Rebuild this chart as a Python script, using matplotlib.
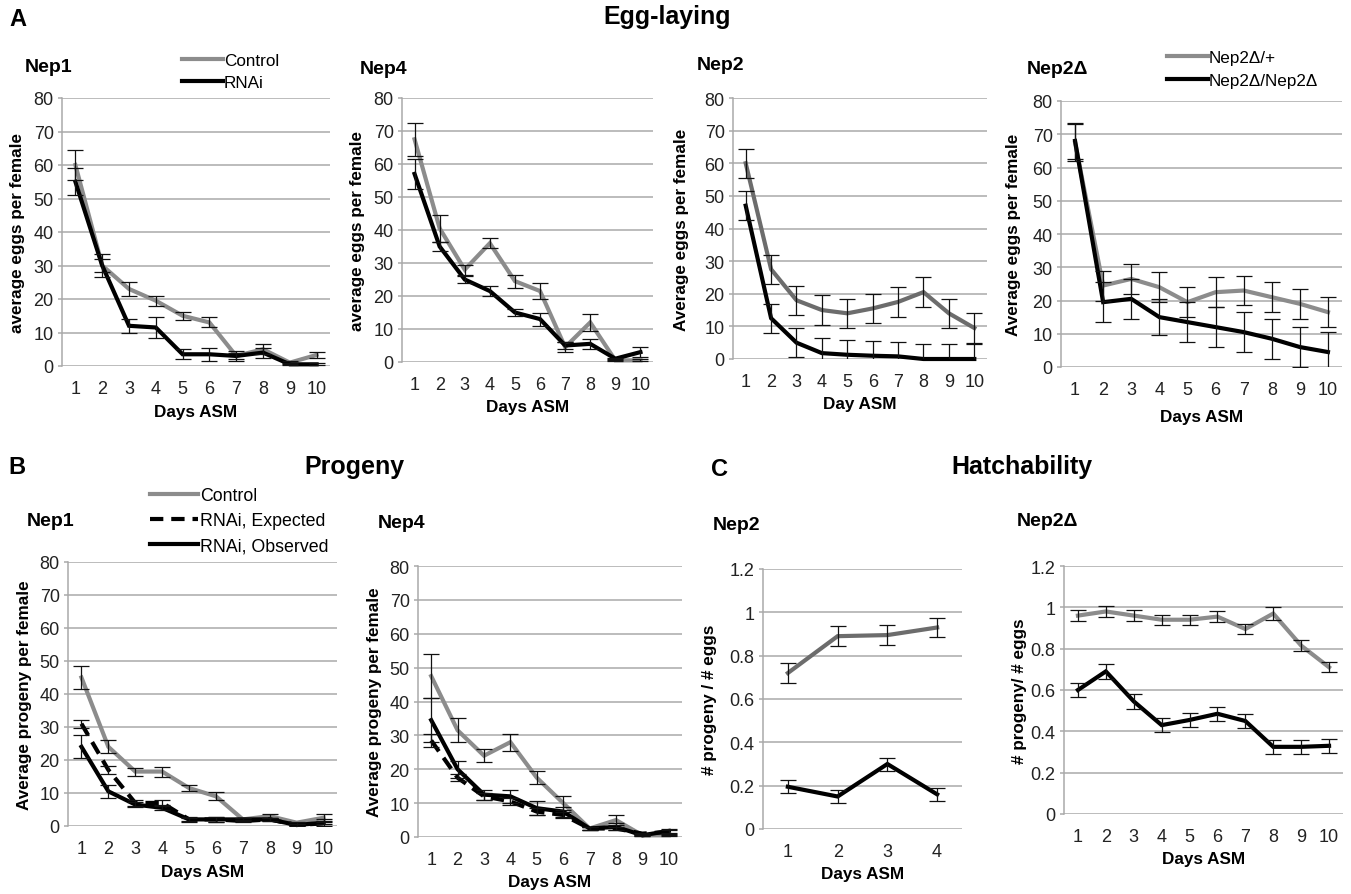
import matplotlib
matplotlib.use('Agg')
import matplotlib.pyplot as plt
from matplotlib.ticker import FuncFormatter

plt.rcParams['font.family'] = ['Liberation Sans', 'DejaVu Sans']

# ---------------- data ----------------
days10 = [1, 2, 3, 4, 5, 6, 7, 8, 9, 10]
days4 = [1, 2, 3, 4]

# A: Egg-laying
eggs_nep1_control = [60, 30, 23, 19.5, 15, 13, 3, 5, 1, 3.3]
eggs_nep1_control_err = [4.5, 3.5, 2, 1.5, 1.2, 1.5, 1.5, 1.5, 0.5, 1]
eggs_nep1_rnai = [55, 30, 12, 11.5, 3.5, 3.5, 3, 4, 0.5, 0.5]
eggs_nep1_rnai_err = [4, 2, 2, 3, 1.5, 2, 1, 1.5, 0.3, 0.3]

eggs_nep4_control = [67.5, 40.5, 28, 36, 24.5, 21.5, 4.5, 12, 0.5, 0.5]
eggs_nep4_control_err = [5, 4, 1.5, 1.5, 2, 2.5, 1.5, 2.5, 0.3, 0.3]
eggs_nep4_rnai = [57, 35, 25, 21.5, 15, 13, 5, 5.5, 1, 3]
eggs_nep4_rnai_err = [4.5, 1.5, 1, 1.5, 1.2, 2, 1, 1.5, 0.3, 1.5]

eggs_nep2_control = [60, 27.5, 18, 15, 14, 15.5, 17.5, 20.5, 14, 9.5]
eggs_nep2_control_err = [4.5, 4.5, 4.5, 4.5, 4.5, 4.5, 4.5, 4.5, 4.5, 4.5]
eggs_nep2_rnai = [47, 12.5, 5, 1.8, 1.3, 1, 0.8, 0, 0, 0]
eggs_nep2_rnai_err = [4.5, 4.5, 4.5, 4.5, 4.5, 4.5, 4.5, 4.7, 4.7, 4.7]

eggs_nep2d_het = [67.5, 24.5, 26.5, 24, 19.5, 22.5, 23, 21, 19, 16.5]
eggs_nep2d_het_err = [5.5, 4.5, 4.5, 4.5, 4.5, 4.5, 4.5, 4.5, 4.5, 4.5]
eggs_nep2d_hom = [68, 19.5, 20.5, 15, 13.5, 12, 10.5, 8.5, 6, 4.5]
eggs_nep2d_hom_err = [5.5, 6, 6, 5.5, 6, 6, 6, 6, 6, 6]

# B: Progeny
prog_nep1_control = [45, 24, 16.5, 16.5, 11.5, 9, 2, 3, 1, 2.5]
prog_nep1_control_err = [3.5, 2, 1.2, 1.5, 1, 1.2, 0.5, 0.5, 0.3, 1]
prog_nep1_expected = [31, 17, 7, 7, 2, 2, 1.5, 2, 0.3, 0.8]
prog_nep1_expected_err = [1.2, 1.2, 0.8, 1, 0.5, 0.8, 0.3, 0.5, 0.2, 0.3]
prog_nep1_observed = [24, 10.5, 6.5, 5.5, 2, 2, 2, 2, 0.3, 1]
prog_nep1_observed_err = [3.5, 2, 0.8, 0.8, 0.8, 0.8, 0.3, 0.5, 0.2, 1]

prog_nep4_control = [47.5, 31.5, 24, 28, 17.5, 10, 2.5, 5, 0.5, 0.5]
prog_nep4_control_err = [6.5, 3.5, 2, 2.5, 2, 2, 0.5, 1.5, 0.2, 0.2]
prog_nep4_expected = [28.5, 17.5, 12, 10.5, 7.5, 6.5, 2.5, 2.5, 1, 1.5]
prog_nep4_expected_err = [2, 1, 1, 1, 1, 1, 0.5, 0.5, 0.2, 0.5]
prog_nep4_observed = [34.5, 20, 12.5, 12, 8.5, 7.5, 2.5, 3, 0.5, 1.8]
prog_nep4_observed_err = [6.5, 2.5, 1.5, 2, 2, 1.5, 0.5, 1, 0.2, 0.5]

# C: Hatchability
hatch_nep2_control = [0.72, 0.89, 0.895, 0.93]
hatch_nep2_control_err = [0.045, 0.045, 0.045, 0.045]
hatch_nep2_rnai = [0.195, 0.15, 0.30, 0.16]
hatch_nep2_rnai_err = [0.03, 0.03, 0.03, 0.03]

hatch_nep2d_het = [0.96, 0.98, 0.96, 0.94, 0.94, 0.955, 0.895, 0.97, 0.815, 0.71]
hatch_nep2d_het_err = [0.025, 0.025, 0.025, 0.025, 0.025, 0.025, 0.025, 0.03, 0.025, 0.025]
hatch_nep2d_hom = [0.60, 0.69, 0.545, 0.43, 0.455, 0.485, 0.45, 0.325, 0.325, 0.33]
hatch_nep2d_hom_err = [0.035, 0.035, 0.035, 0.035, 0.035, 0.035, 0.035, 0.035, 0.035, 0.035]

legend_a_rnai = ['Control', 'RNAi']
legend_a_nep2d = ['Nep2\u0394/+', 'Nep2\u0394/Nep2\u0394']
legend_b = ['Control', 'RNAi, Expected', 'RNAi, Observed']

# ---------------- style ----------------
W, H = 1351, 895
LIGHT = '#8c8c8c'
DARK = '#6c6c6c'
BLACK = '#000000'
GRID = '#a9a9a9'
LW = 3.0
TICK_FS = 13
LABEL_FS = 12.3
SUB_FS = 14
LEG_FS = 12.3

fig = plt.figure(figsize=(W / 100, H / 100), dpi=100)


def px_ax(l, r, t, b):
    return fig.add_axes([l / W, 1 - b / H, (r - l) / W, (b - t) / H])


def style(ax, box, xs, ymax, ystep, ylabel, xlabel, ylab_right, xlab_top):
    l, r, t, b = box
    ax.set_xlim(xs[0] - 0.5, xs[-1] + 0.5)
    ax.set_ylim(0, ymax)
    n = int(round(ymax / ystep))
    ax.set_yticks([round(i * ystep, 3) for i in range(n + 1)])
    ax.set_xticks(xs)
    ax.yaxis.set_major_formatter(FuncFormatter(lambda v, p: f'{round(v, 3):g}'))
    for s in ['top', 'right', 'bottom']:
        ax.spines[s].set_visible(False)
    ax.spines['left'].set_color(GRID)
    ax.spines['left'].set_linewidth(1.1)
    ax.grid(axis='y', color=GRID, linewidth=1.1)
    ax.set_axisbelow(True)
    ax.tick_params(axis='y', length=3, color=GRID, width=1.1, pad=3,
                   labelsize=TICK_FS, labelcolor='#222222')
    ax.tick_params(axis='x', length=0, pad=10, labelsize=TICK_FS, labelcolor='#222222')
    ax.set_ylabel(ylabel, fontsize=LABEL_FS, fontweight='bold')
    ax.set_xlabel(xlabel, fontsize=LABEL_FS, fontweight='bold')
    ax.yaxis.set_label_coords((ylab_right - l) / (r - l), 0.5)
    ax.xaxis.set_label_coords(0.5, (b - xlab_top) / (b - t))


def series(ax, xs, ys, err, color, ls='-'):
    ln, = ax.plot(xs, ys, color=color, lw=LW, ls=ls, clip_on=False, zorder=3,
                  solid_joinstyle='miter', dashes=(3.2, 1.9) if ls == '--' else (None, None))
    ax.errorbar(xs, ys, yerr=err, fmt='none', ecolor='#111111', elinewidth=0.9,
                capsize=5.5, capthick=0.9, zorder=4, clip_on=True)
    return ln


# ---------- A ----------
boxA1 = (62, 330, 99, 367)
axA1 = px_ax(*boxA1)
h1 = series(axA1, days10, eggs_nep1_control, eggs_nep1_control_err, LIGHT)
h2 = series(axA1, days10, eggs_nep1_rnai, eggs_nep1_rnai_err, BLACK)
style(axA1, boxA1, days10, 80, 10, 'average eggs per female', 'Days ASM', 25, 405)
fig.legend([h1, h2], legend_a_rnai, loc='upper left', bbox_to_anchor=(182 / W, 1 - 54 / H),
           frameon=False, fontsize=LEG_FS, handlelength=2.4, handletextpad=0.05,
           borderpad=0, borderaxespad=0, labelspacing=0.42)

boxA2 = (402, 653, 99, 363)
axA2 = px_ax(*boxA2)
series(axA2, days10, eggs_nep4_control, eggs_nep4_control_err, LIGHT)
series(axA2, days10, eggs_nep4_rnai, eggs_nep4_rnai_err, BLACK)
style(axA2, boxA2, days10, 80, 10, 'average eggs per female', 'Days ASM', 365, 400)

boxA3 = (733, 987, 99, 360)
axA3 = px_ax(*boxA3)
series(axA3, days10, eggs_nep2_control, eggs_nep2_control_err, DARK)
series(axA3, days10, eggs_nep2_rnai, eggs_nep2_rnai_err, BLACK)
style(axA3, boxA3, days10, 80, 10, 'Average eggs per female', 'Day ASM', 689, 397)

boxA4 = (1061, 1342, 102, 368)
axA4 = px_ax(*boxA4)
g1 = series(axA4, days10, eggs_nep2d_het, eggs_nep2d_het_err, LIGHT)
g2 = series(axA4, days10, eggs_nep2d_hom, eggs_nep2d_hom_err, BLACK)
style(axA4, boxA4, days10, 80, 10, 'Average eggs per female', 'Days ASM', 1021, 410)
fig.legend([g1, g2], legend_a_nep2d, loc='upper left', bbox_to_anchor=(1167 / W, 1 - 51 / H),
           frameon=False, fontsize=LEG_FS, handlelength=2.4, handletextpad=0.05,
           borderpad=0, borderaxespad=0, labelspacing=0.45)

# ---------- B ----------
boxB1 = (68, 337, 563, 827)
axB1 = px_ax(*boxB1)
b1 = series(axB1, days10, prog_nep1_control, prog_nep1_control_err, LIGHT)
b2 = series(axB1, days10, prog_nep1_expected, prog_nep1_expected_err, BLACK, '--')
b3 = series(axB1, days10, prog_nep1_observed, prog_nep1_observed_err, BLACK)
style(axB1, boxB1, days10, 80, 10, 'Average progeny per female', 'Days ASM', 32, 865)
fig.legend([b1, b2, b3], legend_b, loc='upper left', bbox_to_anchor=(150 / W, 1 - 488 / H),
           frameon=False, fontsize=12.8, handlelength=2.7, handletextpad=0.1,
           borderpad=0, borderaxespad=0, labelspacing=0.45)

boxB2 = (418, 682, 567, 838)
axB2 = px_ax(*boxB2)
series(axB2, days10, prog_nep4_control, prog_nep4_control_err, LIGHT)
series(axB2, days10, prog_nep4_expected, prog_nep4_expected_err, BLACK, '--')
series(axB2, days10, prog_nep4_observed, prog_nep4_observed_err, BLACK)
style(axB2, boxB2, days10, 80, 10, 'Average progeny per female', 'Days ASM', 382, 875)

# ---------- C ----------
boxC1 = (763, 962, 570, 830)
axC1 = px_ax(*boxC1)
series(axC1, days4, hatch_nep2_control, hatch_nep2_control_err, DARK)
series(axC1, days4, hatch_nep2_rnai, hatch_nep2_rnai_err, BLACK)
style(axC1, boxC1, days4, 1.2, 0.2, '# progeny / # eggs', 'Days ASM', 717, 867)

boxC2 = (1064, 1343, 567, 815)
axC2 = px_ax(*boxC2)
series(axC2, days10, hatch_nep2d_het, hatch_nep2d_het_err, LIGHT)
series(axC2, days10, hatch_nep2d_hom, hatch_nep2d_hom_err, BLACK)
style(axC2, boxC2, days10, 1.2, 0.2, '# progeny/ # eggs', 'Days ASM', 1027, 852)

# ---------- titles ----------
def ftext(x, y, s, size, ha='left', weight='bold'):
    fig.text(x / W, 1 - y / H, s, fontsize=size, fontweight=weight, ha=ha, va='center')

ftext(9, 20, 'A', 17)
ftext(667, 17, 'Egg-laying', 18, ha='center')
ftext(8, 468, 'B', 17)
ftext(354, 467, 'Progeny', 18, ha='center')
ftext(711, 470, 'C', 17)
ftext(1022, 467, 'Hatchability', 18, ha='center')

ftext(25, 68, 'Nep1', SUB_FS)
ftext(360, 69, 'Nep4', SUB_FS)
ftext(697, 65, 'Nep2', SUB_FS)
ftext(1027, 70, 'Nep2\u0394', SUB_FS)
ftext(27, 521, 'Nep1', SUB_FS)
ftext(378, 523, 'Nep4', SUB_FS)
ftext(713, 525, 'Nep2', SUB_FS)
ftext(1017, 521, 'Nep2\u0394', SUB_FS)

fig.savefig('out.png', dpi=100)
